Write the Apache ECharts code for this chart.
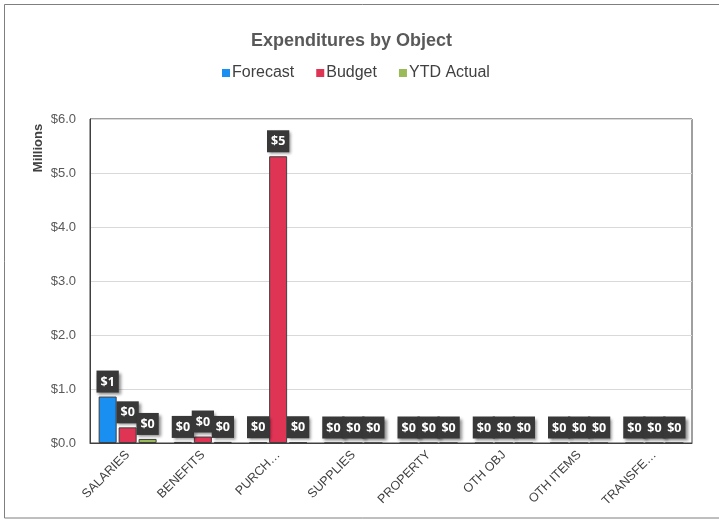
<!DOCTYPE html>
<html>
<head>
<meta charset="utf-8">
<script src="https://cdn.jsdelivr.net/npm/echarts@6/dist/echarts.min.js"></script>
<style>
  html, body { margin: 0; padding: 0; background: #fff; }
  #chart { width: 719px; height: 523px; }
</style>
</head>
<body>
<div id="chart"></div>
<script>
// Expenditure objects (category axis labels as shown on the chart)
const categories = ['SALARIES', 'BENEFITS', 'PURCH\u2026', 'SUPPLIES', 'PROPERTY', 'OTH OBJ', 'OTH ITEMS', 'TRANSFE\u2026'];

// Amounts in millions of dollars
const forecast = [0.86, 0.02, 0.01, 0, 0, 0, 0, 0];
const budget   = [0.29, 0.12, 5.31, 0, 0, 0, 0, 0];
const ytdActual = [0.075, 0.02, 0.01, 0, 0, 0, 0, 0];

// Y-axis ticks (millions)
const yTicks = [0, 1, 2, 3, 4, 5, 6];

const seriesNames = ['Forecast', 'Budget', 'YTD Actual'];
const seriesColors = ['#1a8ff2', '#e03455', '#9bbb59'];

const chart = echarts.init(document.getElementById('chart'));

const valueLabel = {
  show: true,
  position: 'top',
  distance: 4,
  formatter: p => '$' + Math.round(p.value),
  color: '#ffffff',
  fontFamily: 'Open Sans',
  fontWeight: 'bold',
  fontSize: 12.5,
  backgroundColor: '#383838',
  padding: [5, 4, 4, 4],
  shadowColor: 'rgba(0,0,0,0.45)',
  shadowBlur: 3,
  shadowOffsetX: 2,
  shadowOffsetY: 2
};

function makeSeries(name, data, color) {
  return {
    name: name,
    type: 'bar',
    data: data,
    barWidth: 18,
    barGap: '11%',
    itemStyle: { color: color, borderColor: '#3f3f3f', borderWidth: 1 },
    label: valueLabel
  };
}

chart.setOption({
  animation: false,
  backgroundColor: '#ffffff',
  textStyle: { fontFamily: 'Liberation Sans' },
  title: {
    text: 'Expenditures by Object',
    left: 246,
    top: 27,
    textStyle: { fontSize: 18, fontWeight: 'bold', color: '#595959', fontFamily: 'Liberation Sans' }
  },
  legend: {
    data: seriesNames,
    left: 217,
    top: 60,
    icon: 'rect',
    itemWidth: 8,
    itemHeight: 8,
    itemGap: 22,
    itemStyle: { borderWidth: 0 },
    textStyle: { fontSize: 16, color: '#404040', fontFamily: 'Liberation Sans', padding: [0, 0, 0, -3] }
  },
  grid: {
    left: 90,
    right: 27,
    top: 119,
    bottom: 80,
    show: true,
    borderColor: '#404040',
    borderWidth: 1
  },
  xAxis: {
    type: 'category',
    data: categories,
    axisLine: { show: true, lineStyle: { color: '#404040', width: 1 } },
    axisTick: { show: false },
    axisLabel: {
      rotate: 45,
      margin: 10,
      fontSize: 12.5,
      color: '#404040',
      fontFamily: 'Liberation Sans',
      interval: 0
    }
  },
  yAxis: {
    type: 'value',
    min: yTicks[0],
    max: yTicks[yTicks.length - 1],
    interval: 1,
    axisLine: { show: true, lineStyle: { color: '#404040' } },
    axisTick: { show: false },
    splitLine: { lineStyle: { color: '#d9d9d9', width: 1 } },
    axisLabel: {
      formatter: v => '$' + v.toFixed(1),
      fontSize: 13,
      color: '#595959',
      margin: 14,
      fontFamily: 'Liberation Sans'
    }
  },
  graphic: [
    {
      type: 'rect',
      shape: { x: 4.5, y: 4.5, width: 730, height: 513.5 },
      style: { fill: 'none', stroke: '#7f7f7f', lineWidth: 1 },
      silent: true,
      z: -10
    },
    {
      type: 'text',
      x: 38,
      y: 148,
      rotation: Math.PI / 2,
      style: {
        text: 'Millions',
        fontSize: 13,
        fontWeight: 'bold',
        fill: '#404040',
        fontFamily: 'Liberation Sans',
        align: 'center',
        verticalAlign: 'middle'
      }
    }
  ],
  series: [
    makeSeries(seriesNames[0], forecast, seriesColors[0]),
    makeSeries(seriesNames[1], budget, seriesColors[1]),
    makeSeries(seriesNames[2], ytdActual, seriesColors[2])
  ]
});
</script>
</body>
</html>
